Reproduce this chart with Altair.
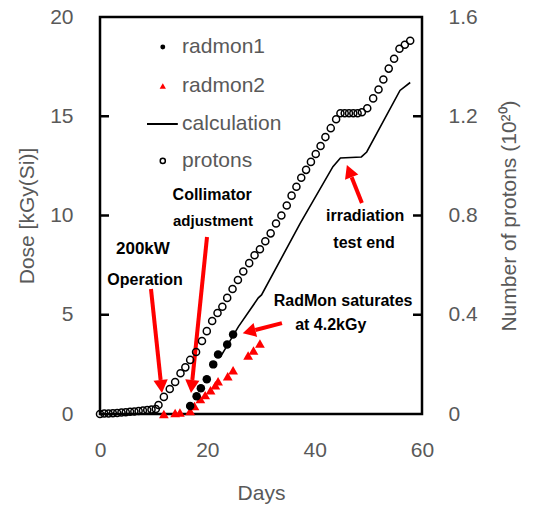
import math
import altair as alt
import pandas as pd

# ---------------- data ----------------
proton_days = [0, 0.8, 1.6, 2.4, 3.2, 4.0, 4.8, 5.6, 6.4, 7.2, 8.0, 8.8, 9.6, 10.4,
               10.9, 11.9, 13.0, 14.0, 15.0, 15.9, 16.8, 17.9, 19.0, 19.9,
               20.9, 21.9, 22.8, 23.7, 24.7, 25.7, 26.7, 27.8, 28.8, 29.8,
               30.8, 31.8, 32.8, 33.8, 34.8, 35.7, 36.6, 37.5, 38.4, 39.3,
               40.2, 41.1, 42.0, 43.0, 44.0, 44.8, 45.6, 46.4, 47.2, 48.0,
               48.8, 49.8, 50.9, 51.9, 52.8, 53.8, 54.8, 55.8, 56.8, 57.8]
proton_vals = [0.000, 0.002, 0.002, 0.003, 0.004, 0.006, 0.007, 0.009, 0.010, 0.012, 0.014, 0.016, 0.018, 0.020,
               0.036, 0.069, 0.101, 0.129, 0.164, 0.188, 0.218, 0.250, 0.294, 0.334,
               0.375, 0.407, 0.432, 0.468, 0.504, 0.540, 0.574, 0.608, 0.640, 0.664,
               0.696, 0.728, 0.768, 0.800, 0.840, 0.880, 0.916, 0.952, 0.984, 1.016,
               1.048, 1.080, 1.116, 1.152, 1.188, 1.212, 1.212, 1.212, 1.212, 1.212,
               1.216, 1.232, 1.272, 1.308, 1.348, 1.392, 1.432, 1.472, 1.488, 1.504]

radmon1_days = [16.8, 18.0, 18.8, 19.9, 21.1, 22.0, 23.7, 24.8]
radmon1_dose = [0.4, 0.9, 1.3, 1.75, 2.5, 3.0, 3.5, 4.0]

radmon2_days = [11.9, 14.0, 14.9, 16.8, 17.6, 18.7, 19.6, 20.6, 21.5, 22.0, 23.8, 24.8, 27.6, 28.6, 29.8]
radmon2_dose = [0.0, 0.05, 0.08, 0.15, 0.4, 0.75, 0.95, 1.2, 1.45, 1.65, 1.9, 2.2, 2.95, 3.2, 3.55]

calc_days = [22.5, 25.8, 29.5, 30.1, 37.3, 43.4, 44.8, 48.7, 49.7, 55.9, 57.8]
calc_dose = [2.9, 4.4, 5.85, 6.0, 9.6, 12.46, 12.9, 12.95, 13.2, 16.3, 16.7]

# annotations (data coordinates)
note_text = ["200kW", "Operation", "Collimator", "adjustment",
             "RadMon saturates", "at 4.2kGy", "irradiation", "test end"]
note_x = [8.0, 8.4, 20.9, 21.05, 45.3, 43.0, 49.4, 49.2]
note_y = [8.31, 6.75, 11.03, 9.72, 5.69, 4.48, 9.97, 8.61]
note_size = [17, 16, 16, 15, 16, 16, 16, 16]

# arrows: start -> tip (data coordinates)
arrow_x0 = [9.5, 19.94, 33.9, 48.8]
arrow_y0 = [6.30, 8.92, 4.58, 10.63]
arrow_x1 = [11.55, 16.96, 26.6, 46.0]
arrow_y1 = [1.06, 1.06, 4.07, 12.54]

legend_labels = ["radmon1", "radmon2", "calculation", "protons"]
legend_y = [18.49, 16.52, 14.61, 12.75]

# ---------------- geometry ----------------
W, H = 322, 397
XMAX, YMAX, PMAX = 60, 20, 1.6
PX = W / XMAX
PY = H / YMAX
HEAD = 13.0
GRAY = "#595959"
RED = "#FF0000"
FONT = "Liberation Sans"

xs = alt.Scale(domain=[0, XMAX], nice=False, zero=False)
ys = alt.Scale(domain=[0, YMAX], nice=False)
ps = alt.Scale(domain=[0, PMAX], nice=False)

x_axis = alt.Axis(values=[0, 20, 40, 60], title="Days", ticks=False, tickSize=0, domain=False,
                  grid=False, labelPadding=25, titlePadding=22, labelFontSize=21, titleFontSize=21,
                  labelColor=GRAY, titleColor=GRAY, labelFont=FONT, titleFont=FONT,
                  titleFontWeight="normal", labelFlush=False)
y_axis = alt.Axis(values=[0, 5, 10, 15, 20], title="Dose [kGy(Si)]", ticks=False, tickSize=0,
                  domain=False, grid=False, labelPadding=27, titlePadding=12, labelFontSize=21,
                  titleFontSize=21, labelColor=GRAY, titleColor=GRAY, labelFont=FONT, titleFont=FONT,
                  titleFontWeight="normal", labelFlush=False)
p_axis = alt.Axis(values=[0, 0.4, 0.8, 1.2, 1.6], title="Number of protons (10²⁰)", orient="right",
                  ticks=False, tickSize=0, domain=False, grid=False, labelPadding=26, titlePadding=42,
                  labelFontSize=21, titleFontSize=21, labelColor=GRAY, titleColor=GRAY,
                  labelFont=FONT, titleFont=FONT, titleFontWeight="normal", titleAngle=270,
                  labelFlush=False,
                  labelExpr="datum.value == 0 ? '0' : format(datum.value, '.1f')")

X = lambda f: alt.X(f, type="quantitative", scale=xs, axis=x_axis)
Y = lambda f: alt.Y(f, type="quantitative", scale=ys, axis=y_axis)

# ---------------- tables ----------------
df_r1 = pd.DataFrame({"day": radmon1_days, "dose": radmon1_dose})
df_r2 = pd.DataFrame({"day": radmon2_days, "dose": radmon2_dose})
df_calc = pd.DataFrame({"day": calc_days, "dose": calc_dose})
df_p = pd.DataFrame({"day": proton_days, "p": proton_vals})
df_notes = pd.DataFrame({"x": note_x, "y": note_y, "t": note_text, "s": note_size})

rows = []
for a, b, c, d in zip(arrow_x0, arrow_y0, arrow_x1, arrow_y1):
    dxp = (c - a) * PX
    dyp = -(d - b) * PY
    L = math.hypot(dxp, dyp)
    ux, uy = dxp / L, dyp / L
    bx = c - ux * HEAD / PX
    by = d + uy * HEAD / PY
    ang = math.degrees(math.atan2(ux, -uy)) % 360
    rows.append({"x0": a, "y0": b, "x1": bx, "y1": by, "tx": c, "ty": d, "ang": ang})
df_arrows = pd.DataFrame(rows)

df_leg = pd.DataFrame({"x": [15.3] * 4, "y": legend_y, "t": legend_labels})
df_leg_line = pd.DataFrame({"x": [8.76], "x2": [14.5], "y": [legend_y[2]]})
df_leg_sym = pd.DataFrame({"x": [11.7, 11.7, 11.7], "y": [legend_y[0], legend_y[1], legend_y[3]],
                           "k": ["r1", "r2", "p"]})

# ---------------- layers (dose scale) ----------------
ticks_left = alt.Chart(pd.DataFrame({"v": [5, 10, 15]})).mark_rule(
    color="black", strokeWidth=2.5).encode(
    y=Y("v"), x=alt.value(0), x2=alt.value(9))

calc = alt.Chart(df_calc).mark_line(color="black", strokeWidth=1.6).encode(x=X("day"), y=Y("dose"))
r1 = alt.Chart(df_r1).mark_point(shape="circle", filled=True, color="black", size=72, opacity=1).encode(
    x=X("day"), y=Y("dose"))
r2 = alt.Chart(df_r2).mark_point(shape="triangle-up", filled=True, color=RED, size=95, opacity=1).encode(
    x=X("day"), y=Y("dose"))

shafts = alt.Chart(df_arrows).mark_rule(color=RED, strokeWidth=4).encode(
    x=X("x0"), y=Y("y0"), x2="x1", y2="y1")
heads = alt.Chart(df_arrows).mark_point(
    shape="M0,0 L-0.55,1 L0.55,1 Z", filled=True, color=RED, size=(2 * HEAD) ** 2, opacity=1).encode(
    x=X("tx"), y=Y("ty"), angle=alt.Angle("ang:Q", scale=None))

notes = alt.Chart(df_notes).mark_text(font=FONT, fontWeight="bold", color="black",
                                      align="center", baseline="middle").encode(
    x=X("x"), y=Y("y"), text="t:N", size=alt.Size("s:Q", scale=None))

leg_text = alt.Chart(df_leg).mark_text(font=FONT, fontSize=21, color=GRAY, align="left",
                                       baseline="middle").encode(x=X("x"), y=Y("y"), text="t:N")
leg_r1 = alt.Chart(df_leg_sym[df_leg_sym.k == "r1"]).mark_point(
    shape="circle", filled=True, color="black", size=24, opacity=1).encode(x=X("x"), y=Y("y"))
leg_r2 = alt.Chart(df_leg_sym[df_leg_sym.k == "r2"]).mark_point(
    shape="triangle-up", filled=True, color=RED, size=40, opacity=1).encode(x=X("x"), y=Y("y"))
leg_p = alt.Chart(df_leg_sym[df_leg_sym.k == "p"]).mark_point(
    shape="circle", filled=False, color="black", strokeWidth=1.5, size=26, opacity=1).encode(
    x=X("x"), y=Y("y"))
leg_line = alt.Chart(df_leg_line).mark_rule(color="black", strokeWidth=2).encode(
    x=X("x"), x2="x2", y=Y("y"))

left = alt.layer(ticks_left, calc, r2, r1, shafts, heads, notes, leg_text, leg_line, leg_r1, leg_r2, leg_p)

# ---------------- layers (proton scale) ----------------
P = lambda f: alt.Y(f, type="quantitative", scale=ps, axis=p_axis)
ticks_right = alt.Chart(pd.DataFrame({"v": [0.4, 0.8, 1.2]})).mark_rule(
    color="black", strokeWidth=2.5).encode(y=P("v"), x=alt.value(W - 9), x2=alt.value(W))
prot = alt.Chart(df_p).mark_point(shape="circle", filled=False, color="black", strokeWidth=1.5,
                                  size=50, opacity=1).encode(x=X("day"), y=P("p"))
right = alt.layer(ticks_right, prot)

chart = alt.layer(left, right).resolve_scale(y="independent").properties(
    width=W, height=H,
    autosize=alt.AutoSizeParams(type="none"),
    padding={"left": 100, "top": 17, "right": 112, "bottom": 94},
    background="white",
).configure_view(stroke="black", strokeWidth=2.5)

chart.save("out.html", embed_options={"renderer": "svg", "actions": False})
